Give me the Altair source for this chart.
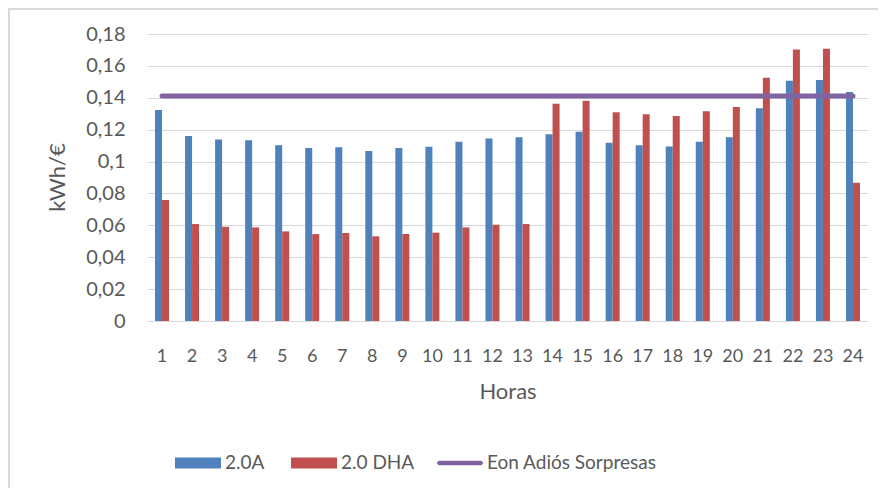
import altair as alt
import pandas as pd

horas = list(range(1, 25))
tarifa_20a = [0.1323, 0.1160, 0.1139, 0.1133, 0.1103, 0.1085, 0.1089, 0.1066,
              0.1085, 0.1093, 0.1124, 0.1145, 0.1152, 0.1172, 0.1187, 0.1118,
              0.1103, 0.1095, 0.1124, 0.1152, 0.1334, 0.1507, 0.1511, 0.1436]
tarifa_20dha = [0.0759, 0.0608, 0.0591, 0.0587, 0.0562, 0.0545, 0.0552, 0.0531,
                0.0545, 0.0554, 0.0587, 0.0604, 0.0608, 0.1363, 0.1381, 0.1310,
                0.1296, 0.1285, 0.1315, 0.1342, 0.1526, 0.1703, 0.1707, 0.0867]
eon = [0.1411, 0.1411, 0.1411, 0.1411, 0.1411, 0.1411, 0.1411, 0.1411,
       0.1411, 0.1411, 0.1411, 0.1411, 0.1411, 0.1411, 0.1411, 0.1411,
       0.1411, 0.1411, 0.1411, 0.1411, 0.1411, 0.1411, 0.1411, 0.1411]
bar_series = ["2.0A", "2.0 DHA"]
bar_colors = ["#4F81BD", "#C0504D"]
line_series = ["Eon Adiós Sorpresas"]
line_colors = ["#8064A2"]
y_ticks = [0, 0.02, 0.04, 0.06, 0.08, 0.1, 0.12, 0.14, 0.16, 0.18]

bars_df = pd.DataFrame(
    [{"hora": h, "serie": bar_series[0], "valor": v} for h, v in zip(horas, tarifa_20a)]
    + [{"hora": h, "serie": bar_series[1], "valor": v} for h, v in zip(horas, tarifa_20dha)]
)
line_df = pd.DataFrame({"hora": horas, "serie": line_series[0], "valor": eon})

TXT = "#595959"
GRID = "#D9D9D9"

x_enc = alt.X(
    "hora:O",
    scale=alt.Scale(paddingInner=0.5333, paddingOuter=0.2667),
    axis=alt.Axis(
        title="Horas",
        labelAngle=0,
        labelFontSize=18,
        labelColor=TXT,
        labelBaseline="alphabetic",
        labelPadding=40,
        labelOverlap=False,
        ticks=False,
        tickSize=0,
        domain=False,
        grid=False,
        titleFontSize=22,
        titleFontWeight="normal",
        titleColor=TXT,
        titleBaseline="alphabetic",
        titleX=360.5,
        titleY=77,
    ),
)

y_enc = alt.Y(
    "valor:Q",
    scale=alt.Scale(domain=[0, 0.18], nice=False),
    axis=alt.Axis(
        title="kWh/€",
        values=y_ticks,
        labelExpr="replace(format(datum.value, '.2~f'), '.', ',')",
        labelFontSize=20,
        labelColor=TXT,
        labelPadding=22,
        labelOverlap=False,
        labelFlush=False,
        ticks=False,
        tickSize=0,
        domain=False,
        grid=True,
        gridColor=GRID,
        gridWidth=1,
        titleFontSize=22,
        titleFontWeight="normal",
        titleColor=TXT,
        titleAngle=-90,
        titleBaseline="middle",
        titleAlign="center",
        titleX=-89.5,
        titleY=143,
    ),
)

bars = alt.Chart(bars_df).mark_bar().encode(
    x=x_enc,
    xOffset=alt.XOffset("serie:N", scale=alt.Scale(domain=bar_series)),
    y=y_enc,
    color=alt.Color(
        "serie:N",
        scale=alt.Scale(domain=bar_series, range=bar_colors),
        legend=alt.Legend(
            title=None,
            orient="none",
            legendX=28,
            legendY=406,
            direction="horizontal",
            symbolType="M-1,-0.24H1V0.24H-1Z",
            symbolSize=2116,
            symbolStrokeWidth=0,
            symbolOpacity=1,
            labelFontSize=19,
            labelColor=TXT,
            labelFont="Lato",
            labelOffset=4,
            labelLimit=300,
            columnPadding=26,
        ),
    ),
)

line = alt.Chart(line_df).mark_line(strokeWidth=5, strokeCap="round").encode(
    x=x_enc,
    y=y_enc,
    stroke=alt.Stroke(
        "serie:N",
        scale=alt.Scale(domain=line_series, range=line_colors),
        legend=alt.Legend(
            title=None,
            orient="none",
            legendX=290,
            legendY=406,
            direction="horizontal",
            symbolType="M-0.9,-0.1H0.9A0.1,0.1 0 0 1 0.9,0.1H-0.9A0.1,0.1 0 0 1 -0.9,-0.1Z",
            symbolSize=2116,
            symbolFillColor="#8064A2",
            symbolStrokeWidth=0,
            symbolOpacity=1,
            labelFontSize=19,
            labelColor=TXT,
            labelFont="Lato",
            labelOffset=4,
            labelLimit=300,
        ),
    ),
)

border_top = alt.Chart(line_df).mark_rule(color=GRID, strokeWidth=2).encode(
    x=alt.value(-139), x2=alt.value(732), y=alt.value(-25)
)
border_left = alt.Chart(line_df).mark_rule(color=GRID, strokeWidth=2).encode(
    x=alt.value(-138), y=alt.value(-26), y2=alt.value(457)
)

chart = (
    alt.layer(border_top, border_left, bars, line)
    .properties(
        width=721,
        height=287,
        autosize=alt.AutoSizeParams(type="none"),
        padding={"left": 139, "top": 26, "right": 10, "bottom": 167},
    )
    .configure(font="Lato")
    .configure_view(stroke=None)
)

chart.save("out.html", embed_options={"renderer": "svg", "actions": False})
